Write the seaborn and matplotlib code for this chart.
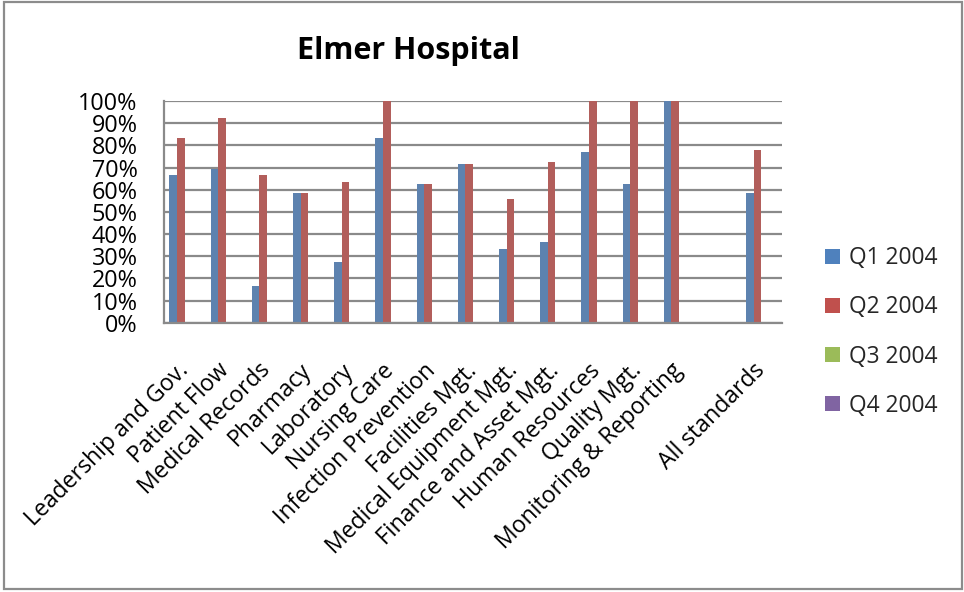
import matplotlib
matplotlib.use("Agg")
import matplotlib.pyplot as plt
from matplotlib.patches import Patch, Rectangle
from matplotlib.ticker import FuncFormatter, MultipleLocator
import numpy as np
import pandas as pd
import seaborn as sns

# Accreditation standards (a blank slot separates the overall score)
categories = [
    "Leadership and Gov.", "Patient Flow", "Medical Records", "Pharmacy",
    "Laboratory", "Nursing Care", "Infection Prevention", "Facilities Mgt.",
    "Medical Equipment Mgt.", "Finance and Asset Mgt.", "Human Resources",
    "Quality Mgt.", "Monitoring & Reporting", "All standards",
]
axis_order = categories[:13] + [""] + categories[13:]

quarters = ["Q1 2004", "Q2 2004", "Q3 2004", "Q4 2004"]
q1 = [66.7, 69.2, 16.7, 58.3, 27.3, 83.3, 62.5, 71.4, 33.3, 36.4, 76.9, 62.5, 100.0, 58.6]
q2 = [83.3, 92.3, 66.7, 58.3, 63.6, 100.0, 62.5, 71.4, 55.6, 72.7, 100.0, 100.0, 100.0, 78.0]
q3 = [np.nan] * len(categories)
q4 = [np.nan] * len(categories)

colors = ["#4F81BD", "#C0504D", "#9BBB59", "#8064A2"]

df = pd.DataFrame({"standard": categories, "Q1 2004": q1, "Q2 2004": q2,
                   "Q3 2004": q3, "Q4 2004": q4})
long = df.melt(id_vars="standard", var_name="quarter", value_name="score")

sns.set_theme(style="white")
plt.rcParams["font.family"] = ["Open Sans", "DejaVu Sans"]

W, H = 964, 592
fig = plt.figure(figsize=(W / 100, H / 100), dpi=100)
ax = fig.add_axes([164 / W, (H - 322.7) / H, 618 / W, 221.7 / H])

sns.barplot(data=long, x="standard", y="score", hue="quarter",
            order=axis_order, hue_order=quarters, palette=colors,
            width=0.74, linewidth=0, errorbar=None, legend=False, ax=ax)

ax.set_ylim(0, 100)
ax.set_xlim(-0.5, len(axis_order) - 0.5)
ax.yaxis.set_major_locator(MultipleLocator(10))
ax.yaxis.set_major_formatter(FuncFormatter(lambda v, _: f"{v:.0f}%"))
ax.set_axisbelow(True)
ax.grid(axis="y", color="#8a8a8a", linewidth=1.6)
ax.grid(axis="x", visible=False)
ax.set_xlabel("")
ax.set_ylabel("")

for side in ("top", "right"):
    ax.spines[side].set_visible(False)
for side in ("left", "bottom"):
    ax.spines[side].set_color("#8a8a8a")
    ax.spines[side].set_linewidth(1.6)

ax.tick_params(axis="y", length=0, pad=19, labelsize=16.8, labelcolor="black")
ax.tick_params(axis="x", length=0, pad=32, labelsize=16.6, labelcolor="black")
for lbl in ax.get_xticklabels():
    lbl.set_rotation(45)
    lbl.set_ha("right")
    lbl.set_va("center")
    lbl.set_rotation_mode("anchor")

fig.text(408 / W, (H - 51) / H, "Elmer Hospital", ha="center", va="center",
         fontsize=22, fontweight="bold", color="black")

handles = [Patch(facecolor=c, edgecolor="none") for c in colors]
fig.legend(handles, quarters, loc="center left",
           bbox_to_anchor=(825 / W, (H - 332) / H), frameon=False,
           fontsize=16.4, handlelength=0.65, handleheight=0.65,
           handletextpad=0.4, labelspacing=1.1, borderpad=0,
           borderaxespad=0)

fig.patches.append(Rectangle((4 / W, (H - 589) / H), 958 / W, 587 / H,
                             transform=fig.transFigure, fill=False,
                             edgecolor="#8c8c8c", linewidth=1.6))

fig.savefig("out.png", dpi=100)
